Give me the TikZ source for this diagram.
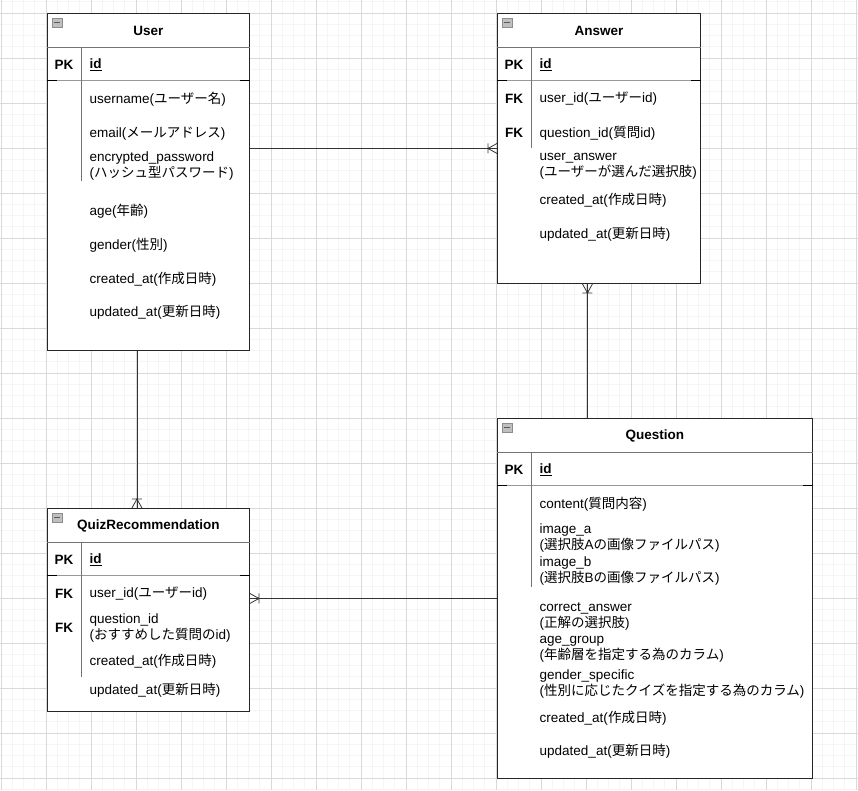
\documentclass[tikz,border=0pt]{standalone}
\usepackage{fontspec}
\setmainfont{Liberation Sans}
\newfontfamily\jpfont{Noto Sans CJK JP}
\newcommand{\ja}[1]{{\jpfont #1}}
\usetikzlibrary{calc}

\begin{document}
\begin{tikzpicture}[x=1pt, y=-1pt,
    font=\fontsize{13.5}{16}\selectfont,
    tbl/.style={rectangle, draw=black!85, line width=0.9pt, fill=white, anchor=north west, inner sep=0pt},
    ttl/.style={font=\fontsize{13.5}{16}\selectfont\bfseries},
    key/.style={font=\fontsize{13.5}{16}\selectfont\bfseries, inner sep=0pt},
    fld/.style={anchor=west, inner sep=0pt, align=left},
    sep/.style={draw=black!55, line width=0.8pt},
    rel/.style={draw=black!80, line width=0.8pt},
    icon/.style={draw=black!45, fill=black!25, line width=0.5pt},
    gridminor/.style={draw=black!4, line width=0.7pt},
    gridmajor/.style={draw=black!15, line width=0.8pt},
    crow/.pic={\draw[rel] (-9,-5) -- (-9,5) (0,-5) -- (-9,0) -- (0,5);}
]
    \useasboundingbox (0,0) rectangle (858,790);
    \fill[white] (0,0) rectangle (858,790);

    % background grid
    \foreach \k in {0,...,76} \draw[gridminor] (1+11.25*\k,0) -- (1+11.25*\k,790);
    \foreach \k in {0,...,70} \draw[gridminor] (0,1.75+11.25*\k) -- (858,1.75+11.25*\k);
    \foreach \k in {0,...,19} \draw[gridmajor] (1+45*\k,0) -- (1+45*\k,790);
    \foreach \k in {0,...,17} \draw[gridmajor] (0,13+45*\k) -- (858,13+45*\k);

    % tables
    \node[tbl, minimum width=202pt, minimum height=337pt] (user) at (47,13) {};
    \node[tbl, minimum width=203pt, minimum height=270pt] (answer) at (497,13) {};
    \node[tbl, minimum width=202pt, minimum height=203pt] (quiz) at (47,508) {};
    \node[tbl, minimum width=315pt, minimum height=360pt] (question) at (497,418) {};

    \foreach \n/\d in {user/181, answer/148, quiz/677, question/587} {
        \draw[sep] ($(\n.north west)+(0,34)$) -- ($(\n.north east)+(0,34)$);
        \draw[sep, draw=black!40] ($(\n.north west)+(0,67.5)$) -- ($(\n.north east)+(0,67.5)$);
        \draw[line width=1.8pt] ($(\n.north west)+(0,67.5)$) -- +(10,0);
        \draw[line width=1.8pt] ($(\n.north east)+(0,67.5)$) -- +(-10,0);
        \draw[sep] ($(\n.north west)+(34,34)$) -- ($(\n.west |- 0,\d)+(34,0)$);
        \draw[icon] ($(\n.north west)+(5,5)$) rectangle +(10,9);
        \draw[black!65, line width=1pt] ($(\n.north west)+(7,9.5)$) -- +(6,0);
        \node[key] (\n-pk) at ($(\n.north west)+(17,51.5)$) {PK};
        \node[fld] (\n-id) at ($(\n.north west)+(42.5,51.5)$) {\textbf{\underline{id}}};
    }

    \node[ttl] (user-title) at ($(user.north)+(0,18)$) {User};
    \node[ttl] (answer-title) at ($(answer.north)+(0,18)$) {Answer};
    \node[ttl] (quiz-title) at ($(quiz.north)+(0,18)$) {QuizRecommendation};
    \node[ttl] (question-title) at ($(question.north)+(0,18)$) {Question};

    % User
    \foreach \y/\t [count=\i] in {98.8/username(\ja{ユーザー名}), 133.2/email(\ja{メールアドレス}),
        166.5/{encrypted\_password\\(\ja{ハッシュ型パスワード})}, 211.2/age(\ja{年齢}), 244.8/gender(\ja{性別}),
        278.8/created\_at(\ja{作成日時}), 312.2/updated\_at(\ja{更新日時})}
        \node[fld] (user-f\i) at (89.5,\y) {\t};

    % Answer
    \node[key] (answer-fk1) at (514,98.8) {FK};
    \node[key] (answer-fk2) at (514,133.2) {FK};
    \foreach \y/\t [count=\i] in {98.8/user\_id(\ja{ユーザー}id), 133.2/question\_id(\ja{質問}id),
        166.5/{user\_answer\\(\ja{ユーザーが選んだ選択肢})}, 199.8/created\_at(\ja{作成日時}), 233.8/updated\_at(\ja{更新日時})}
        \node[fld] (answer-f\i) at (539.5,\y) {\t};

    % QuizRecommendation
    \node[key] (quiz-fk1) at (64,593.8) {FK};
    \node[key] (quiz-fk2) at (64,627.8) {FK};
    \foreach \y/\t [count=\i] in {593.8/user\_id(\ja{ユーザー}id), 627.5/{question\_id\\(\ja{おすすめした質問の}id)},
        661.5/created\_at(\ja{作成日時}), 690.5/updated\_at(\ja{更新日時})}
        \node[fld] (quiz-f\i) at (89.5,\y) {\t};

    % Question
    \foreach \y/\t [count=\i] in {503.8/content(\ja{質問内容}),
        538/{image\_a\\(\ja{選択肢}A\ja{の画像ファイルパス})}, 571.2/{image\_b\\(\ja{選択肢}B\ja{の画像ファイルパス})},
        616.5/{correct\_answer\\(\ja{正解の選択肢})}, 649.5/{age\_group\\(\ja{年齢層を指定する為のカラム})},
        684.2/{gender\_specific\\(\ja{性別に応じたクイズを指定する為のカラム})},
        717.8/created\_at(\ja{作成日時}), 751.2/updated\_at(\ja{更新日時})}
        \node[fld] (question-f\i) at (539.5,\y) {\t};

    % relations
    \draw[rel] (answer.west -| user.east) -- (answer.west);
    \pic at (answer.west) {crow};
    \draw[rel] ([xshift=-11.5pt]answer.south) -- ([xshift=-11.5pt]answer.south |- question.north);
    \pic[rotate=90] at ([xshift=-11.5pt]answer.south) {crow};
    \draw[rel] ([xshift=-11.5pt]user.south) -- ([xshift=-11.5pt]user.south |- quiz.north);
    \pic[rotate=-90] at ([xshift=-11.5pt]user.south |- quiz.north) {crow};
    \draw[rel] (question.west) -- (question.west -| quiz.east);
    \pic[rotate=180] at (question.west -| quiz.east) {crow};
\end{tikzpicture}
\end{document}
